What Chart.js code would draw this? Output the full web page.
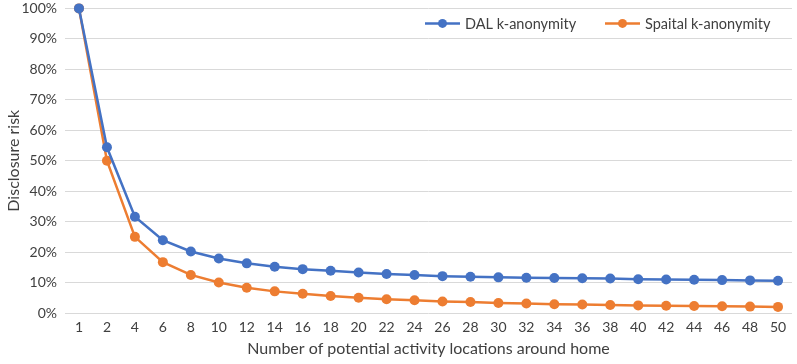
<!DOCTYPE html>
<html>
<head>
<meta charset="utf-8">
<script src="https://cdn.jsdelivr.net/npm/chart.js@4/dist/chart.umd.min.js"></script>
<style>
  html, body { margin: 0; padding: 0; background: #fff; overflow: hidden; }
  /* canvas is 8px taller and pulled up, so the 100% line sits near the top edge */
  #wrap { width: 797px; height: 372px; margin-top: -8px; }
</style>
</head>
<body>
<div id="wrap"><canvas id="myChart"></canvas></div>
<script>
// x categories = number of potential activity locations
const kLabels = ['1', '2', '4', '6', '8', '10', '12', '14', '16', '18', '20', '22', '24', '26',
  '28', '30', '32', '34', '36', '38', '40', '42', '44', '46', '48', '50'];

// disclosure risk in %
const dalRisk = [100, 54.4, 31.6, 23.9, 20.2, 17.9, 16.3, 15.2, 14.4, 13.9, 13.3, 12.8, 12.5,
  12.1, 11.9, 11.7, 11.6, 11.5, 11.4, 11.3, 11.1, 11.0, 10.9, 10.8, 10.7, 10.6];
const spatialRisk = [100, 50, 25, 16.7, 12.5, 10, 8.3, 7.1, 6.3, 5.6, 5, 4.5, 4.2, 3.8, 3.6,
  3.3, 3.1, 2.9, 2.8, 2.6, 2.5, 2.4, 2.3, 2.2, 2.1, 2];

const yTicks = [0, 10, 20, 30, 40, 50, 60, 70, 80, 90, 100];

const blue = '#4472C4';
const orange = '#ED7D31';
const textColor = '#404040';
const fontFamily = 'Lato, "Open Sans", sans-serif';

// legend drawn inside the plot, top right (like the Excel original)
const insideLegend = {
  id: 'insideLegend',
  afterDraw(chart) {
    const c = chart.ctx;
    const y = chart.chartArea.top + 15;
    const right = chart.chartArea.right;
    const items = [
      { x: right - 367, text: chart.data.datasets[0].label, color: blue },
      { x: right - 187, text: chart.data.datasets[1].label, color: orange }
    ];
    c.save();
    c.font = '14.5px ' + fontFamily;
    items.forEach(it => {
      c.strokeStyle = it.color;
      c.lineWidth = 2.5;
      c.beginPath();
      c.moveTo(it.x, y);
      c.lineTo(it.x + 35, y);
      c.stroke();
      c.fillStyle = it.color;
      c.beginPath();
      c.arc(it.x + 17.5, y, 4.5, 0, Math.PI * 2);
      c.fill();
      c.fillStyle = textColor;
      c.textBaseline = 'middle';
      c.fillText(it.text, it.x + 40, y + 1);
    });
    c.restore();
  }
};

const ctx = document.getElementById('myChart').getContext('2d');
const myChart = new Chart(ctx, {
  type: 'line',
  data: {
    labels: kLabels,
    datasets: [{
      label: 'DAL k-anonymity',
      data: dalRisk,
      borderColor: blue,
      backgroundColor: blue,
      borderWidth: 2.5,
      pointRadius: 5,
      pointBorderWidth: 0,
      pointHoverRadius: 5,
      clip: false
    }, {
      label: 'Spaital k-anonymity',
      data: spatialRisk,
      borderColor: orange,
      backgroundColor: orange,
      borderWidth: 2.5,
      pointRadius: 5,
      pointBorderWidth: 0,
      pointHoverRadius: 5,
      clip: false
    }]
  },
  options: {
    responsive: true,
    maintainAspectRatio: false,
    animation: false,
    layout: { padding: { top: 0, right: 3, left: 0, bottom: 0 } },
    plugins: {
      legend: { display: false },
      tooltip: { enabled: false }
    },
    scales: {
      x: {
        offset: true,
        grid: { display: false, drawTicks: false },
        border: { display: false },
        ticks: { color: textColor, font: { family: fontFamily, size: 14 }, maxRotation: 0, autoSkip: false, padding: 6 },
        title: { display: true, text: 'Number of potential activity locations around home', color: textColor, font: { family: fontFamily, size: 16 }, padding: { top: 4, bottom: 6 } },
        afterFit(scale) { scale.height = 51; }
      },
      y: {
        min: 0,
        max: 100,
        afterBuildTicks(scale) { scale.ticks = yTicks.map(v => ({ value: v })); },
        grid: { color: '#d9d9d9', lineWidth: 1, drawTicks: false },
        border: { display: false },
        ticks: { color: textColor, font: { family: fontFamily, size: 14 }, padding: 8, callback: v => v + '%' },
        title: { display: true, text: 'Disclosure risk', color: textColor, font: { family: fontFamily, size: 16 }, padding: { bottom: 2 } },
        afterFit(scale) { scale.width = 65; }
      }
    }
  },
  plugins: [insideLegend]
});
</script>
</body>
</html>
